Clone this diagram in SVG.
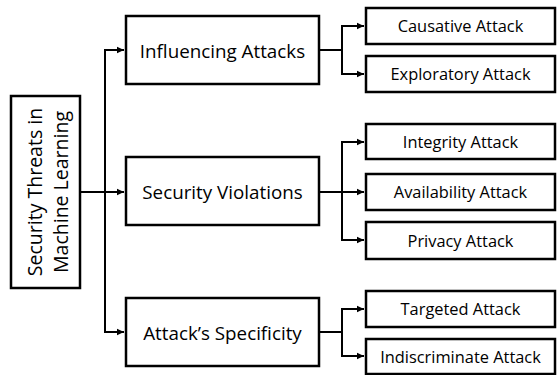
<svg xmlns="http://www.w3.org/2000/svg" width="557" height="375" viewBox="0 0 557 375">
<defs>
<marker id="ah" markerWidth="8" markerHeight="8" refX="7" refY="4" orient="auto" markerUnits="userSpaceOnUse">
<path d="M0,0.8 L7,4 L0,7.2 Z" fill="#000"/>
</marker>
<style>
.box{fill:#fff;stroke:#000;stroke-width:2.5}
.t{font-family:"Open Sans","Noto Sans",sans-serif;fill:#000;text-anchor:middle}
.mid{font-size:18.8px}
.leaf{font-size:16.4px}
.root{font-size:19.5px}
.c{fill:none;stroke:#000;stroke-width:2}
</style>
</defs>
<rect width="557" height="375" fill="#fff"/>
<g id="connectors">
<path class="c" d="M80,192 H124" marker-end="url(#ah)"/>
<path class="c" d="M124,50 H105 V332 H124" marker-end="url(#ah)"/>
<path class="c" d="M105,50 H124" marker-end="url(#ah)"/>
<path class="c" d="M319,50 H342"/>
<path class="c" d="M364,26 H342 V74 H364" marker-end="url(#ah)"/>
<path class="c" d="M342,26 H364" marker-end="url(#ah)"/>
<path class="c" d="M319,192 H364" marker-end="url(#ah)"/>
<path class="c" d="M364,142 H342 V240 H364" marker-end="url(#ah)"/>
<path class="c" d="M342,142 H364" marker-end="url(#ah)"/>
<path class="c" d="M319,332 H342"/>
<path class="c" d="M364,309 H342 V356 H364" marker-end="url(#ah)"/>
<path class="c" d="M342,309 H364" marker-end="url(#ah)"/>
</g>
<g id="root">
<rect class="box" x="11" y="96" width="69" height="192"/>
<text class="t root" transform="translate(42,192) rotate(-90)">Security Threats in</text>
<text class="t root" transform="translate(68,192) rotate(-90)">Machine Learning</text>
</g>
<g id="influencing">
<rect class="box" x="126" y="16" width="193" height="68"/>
<text class="t mid" x="222.5" y="57.5">Influencing Attacks</text>
</g>
<g id="violations">
<rect class="box" x="126" y="157" width="193" height="68"/>
<text class="t mid" x="222.5" y="198.5">Security Violations</text>
</g>
<g id="specificity">
<rect class="box" x="126" y="298" width="193" height="68"/>
<text class="t mid" x="222.5" y="339.5">Attack’s Specificity</text>
</g>
<g id="causative">
<rect class="box" x="366" y="8" width="189" height="36"/>
<text class="t leaf" x="460.5" y="32">Causative Attack</text>
</g>
<g id="exploratory">
<rect class="box" x="366" y="56" width="189" height="36"/>
<text class="t leaf" x="460.5" y="80">Exploratory Attack</text>
</g>
<g id="integrity">
<rect class="box" x="366" y="124" width="189" height="35"/>
<text class="t leaf" x="460.5" y="147.5">Integrity Attack</text>
</g>
<g id="availability">
<rect class="box" x="366" y="174" width="189" height="36"/>
<text class="t leaf" x="460.5" y="198">Availability Attack</text>
</g>
<g id="privacy">
<rect class="box" x="366" y="222" width="189" height="37"/>
<text class="t leaf" x="460.5" y="246.5">Privacy Attack</text>
</g>
<g id="targeted">
<rect class="box" x="366" y="291" width="189" height="36"/>
<text class="t leaf" x="460.5" y="315">Targeted Attack</text>
</g>
<g id="indiscriminate">
<rect class="box" x="366" y="339" width="189" height="35"/>
<text class="t leaf" x="460.5" y="362.5">Indiscriminate Attack</text>
</g>
</svg>
